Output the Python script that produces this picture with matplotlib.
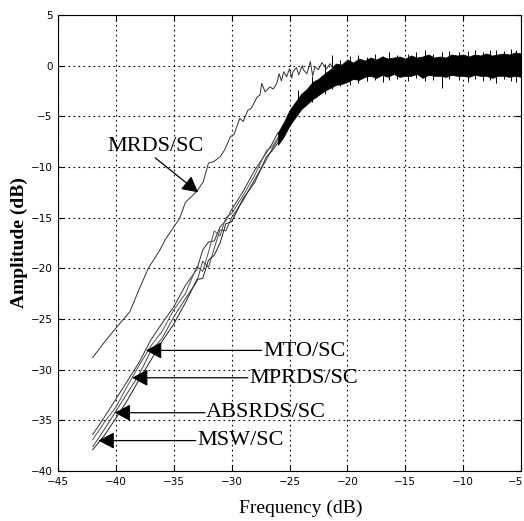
import matplotlib
matplotlib.use("Agg")
import matplotlib.pyplot as plt
from matplotlib.transforms import ScaledTranslation

# frequency points shared by the four MxxSC curves (steep part, before they merge)
freq_steep = [-42, -41, -40, -39, -38, -37, -36, -35, -34, -33,
              -32.5, -32, -31.5, -31, -30.5, -30, -29, -28, -27, -26.5, -26]
amp_mto = [-36.4, -34.7, -32.9, -31.1, -29.3, -27.1, -25.4, -23.8, -21.7, -20.1,
           -18.2, -17.4, -17.3, -15.9, -15.3, -14.2, -12.4, -10.3, -8.6, -7.7, -6.6]
amp_mprds = [-36.9, -35.2, -33.7, -31.6, -29.6, -27.7, -26.2, -24.1, -22.5, -19.8,
             -20.3, -18.4, -16.3, -16.8, -15.0, -14.6, -12.8, -10.8, -8.4, -8.0, -7.1]
amp_absrds = [-37.6, -35.9, -34.1, -32.3, -30.5, -28.2, -26.9, -24.8, -23.0, -21.3,
              -19.3, -19.9, -18.0, -16.2, -16.3, -15.0, -13.3, -11.2, -9.3, -8.2, -7.3]
amp_msw = [-37.9, -36.5, -34.8, -33.0, -31.0, -29.1, -27.2, -25.5, -23.4, -21.1,
           -21.0, -19.2, -18.7, -17.5, -15.6, -15.4, -13.1, -11.5, -9.0, -8.4, -7.6]

# dense noisy part where all curves overlap: upper / lower envelope
freq_band = [-26.0, -25.5, -25.0, -24.5, -24.0, -23.5, -23.0, -22.5,
             -22.0, -21.5, -21.0, -20.5, -20.0, -19.5, -19.0, -18.5, -18.0, -17.5,
             -17.0, -16.5, -16.0, -15.5, -15.0, -14.5, -14.0, -13.5, -13.0, -12.5,
             -12.0, -11.5, -11.0, -10.5, -10.0, -9.5, -9.0, -8.5, -8.0, -7.5,
             -7.0, -6.5, -6.0, -5.5, -5.0]
band_upper = [-6.6, -5.6, -4.4, -3.6, -2.8, -2.3, -1.6, -1.3,
              -0.8, -0.4, 0.2, 0.1, 0.6, 0.3, 0.7, 0.5, 0.8, 0.6,
              0.9, 0.7, 0.8, 0.9, 0.7, 1.0, 0.8, 0.9, 1.1, 0.8,
              0.9, 0.8, 1.1, 1.0, 1.1, 0.9, 1.1, 1.0, 1.2, 1.0,
              1.1, 1.2, 1.1, 1.3, 1.2]
band_lower = [-7.8, -7.0, -5.9, -5.1, -4.3, -3.8, -3.3, -2.9,
              -2.5, -2.2, -1.9, -1.8, -1.6, -1.3, -1.4, -1.1, -1.0, -1.2,
              -0.9, -1.1, -0.8, -1.1, -1.0, -1.0, -0.8, -1.2, -0.9, -1.0,
              -1.0, -1.1, -0.9, -1.0, -1.0, -1.1, -0.9, -1.0, -1.0, -1.2,
              -1.0, -1.0, -1.1, -1.0, -1.1]

# isolated noise spikes sticking out of the band
spike_freq = [-24.3, -23.1, -21.9, -21.3, -20.6, -19.8, -19.1, -18.3, -17.6, -16.9,
              -16.4, -15.7, -14.8, -14.1, -13.3, -12.6, -11.85, -11.2, -10.4, -9.6,
              -9.0, -8.3, -7.7, -7.2, -6.5, -5.9, -5.4]
spike_low = [-4.6, -3.6, -2.8, -2.3, -2.0, -1.9, -1.7, -1.5, -1.4, -1.6,
             -1.4, -1.3, -1.5, -1.2, -1.5, -1.4, -2.2, -1.3, -1.4, -1.6,
             -1.3, -1.5, -1.4, -1.7, -1.3, -1.5, -1.6]
spike_high = [-2.4, -1.0, 0.2, 1.1, 0.6, 1.0, 1.1, 0.9, 1.2, 1.0,
              1.3, 1.1, 1.2, 1.3, 1.55, 1.2, 1.3, 1.4, 1.3, 1.4,
              1.5, 1.3, 1.5, 1.5, 1.4, 1.6, 1.5]

# MRDS/SC curve
freq_mrds = [-42.0, -41.0, -40.0, -38.8, -38.0, -37.2, -36.2, -35.75, -35.0, -34.5,
             -34.0, -33.0, -32.45, -32.0, -31.6, -31.0, -30.6, -30.1, -29.8, -29.3,
             -29.0, -28.6, -28.3, -27.8, -27.55, -27.4, -27.1, -26.7, -26.4, -26.1,
             -25.9, -25.7, -25.5, -25.25, -25.0, -24.8, -24.7, -24.4, -24.2, -23.9,
             -23.8, -23.5, -23.2, -23.0, -22.8, -22.5, -22.2, -21.8, -21.5, -21.2]
amp_mrds = [-28.8, -27.3, -25.9, -24.3, -22.1, -20.0, -18.2, -17.2, -15.9, -15.1,
            -13.5, -12.4, -11.45, -9.6, -9.5, -9.0, -8.3, -7.0, -6.8, -5.2,
            -5.5, -4.4, -4.2, -3.1, -2.9, -1.75, -2.6, -2.1, -2.3, -1.75,
            -0.8, -1.5, -0.6, -1.1, -0.3, -1.2, -0.6, -0.2, -0.9, 0.0,
            -0.4, -0.8, 0.4, -1.0, -0.1, -0.4, 0.3, -0.3, 0.2, -0.4]

# annotation labels: (text, arrow tip, text anchor)
labels = ["MTO/SC", "MPRDS/SC", "ABSRDS/SC", "MSW/SC"]
tip_freq = [-37.4, -38.6, -40.1, -41.5]
tip_amp = [-28.1, -30.8, -34.25, -37.0]
text_freq = [-27.4, -28.6, -32.3, -33.1]
text_amp = [-28.2, -30.9, -34.2, -37.0]


fig = plt.figure(figsize=(5.24, 5.21), dpi=100)
ax = fig.add_axes([0.1107, 0.096, 0.8836, 0.8752])

serif = ["Liberation Serif", "DejaVu Serif"]

ax.fill_between(freq_band, band_lower, band_upper, color="black", linewidth=0.6,
                edgecolor="black", zorder=3)
ax.vlines(spike_freq, spike_low, spike_high, color="black", linewidth=0.7, zorder=3)

for amps, c in zip([amp_mto, amp_mprds, amp_absrds, amp_msw],
                   ["#333333", "#555555", "#444444", "#222222"]):
    ax.plot(freq_steep, amps, color=c, linewidth=0.7, zorder=3)

ax.plot(freq_mrds, amp_mrds, color="#333333", linewidth=0.7, zorder=3)

# left-pointing label arrows
for lab, tx, ty, fx, fy in zip(labels, tip_freq, tip_amp, text_freq, text_amp):
    ax.annotate("", xy=(tx, ty), xytext=(fx, ty),
                arrowprops=dict(arrowstyle="-|>,head_length=0.6,head_width=0.32",
                                mutation_scale=16, color="black", lw=0.9,
                                shrinkA=0, shrinkB=0), zorder=4)
    ax.text(fx + 0.1, fy, lab, ha="left", va="center", fontsize=16,
            family=serif, zorder=4)

# MRDS/SC label with diagonal arrow
ax.text(-40.7, -8.0, "MRDS/SC", ha="left", va="center", fontsize=16, family=serif)
ax.annotate("", xy=(-32.9, -12.5), xytext=(-36.6, -9.1),
            arrowprops=dict(arrowstyle="-|>,head_length=0.6,head_width=0.32",
                            mutation_scale=16, color="black", lw=0.9,
                            shrinkA=0, shrinkB=0))

ax.set_xlim(-45, -5)
ax.set_ylim(-40, 5)
ax.set_xticks(range(-45, -4, 5))
ax.set_yticks(range(-40, 6, 5))
ax.grid(True, linestyle=(0, (1.5, 3)), color="black", linewidth=0.8)
ax.set_axisbelow(True)
ax.tick_params(direction="in", length=4, width=0.8, top=True, right=True,
               labelsize=7.5, pad=4)
for s in ax.spines.values():
    s.set_linewidth(0.8)

# nudge the last x tick label so it stays inside the figure
last = ax.get_xticklabels()[-1]
last.set_transform(last.get_transform() + ScaledTranslation(-4 / 72, 0, fig.dpi_scale_trans))

ax.set_xlabel("Frequency (dB)", fontsize=14, family=serif)
ax.xaxis.set_label_coords(0.525, -0.064)
ax.set_ylabel("Amplitude (dB)", fontsize=14, family=serif, fontweight="bold")
ax.yaxis.set_label_coords(-0.065, 0.5)

fig.savefig("out.png", dpi=100)
